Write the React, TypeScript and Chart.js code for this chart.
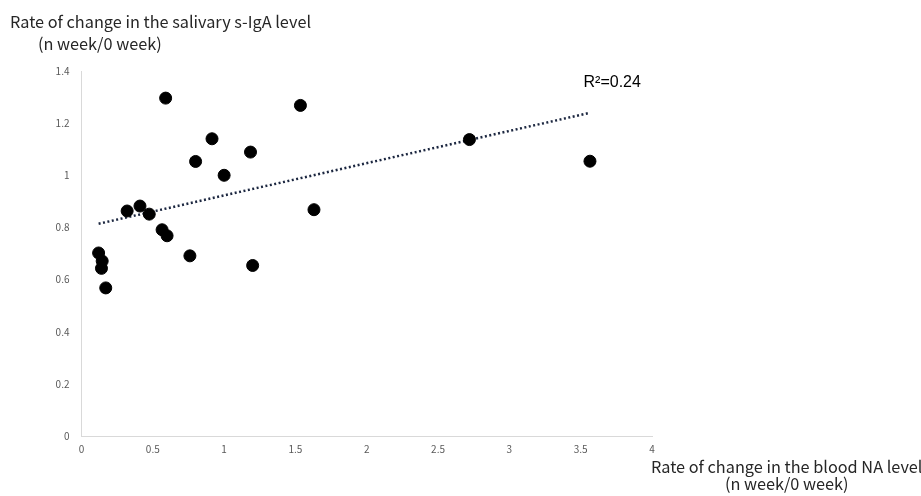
import React, { useEffect, useRef } from "react";
import { Chart, registerables } from "chart.js";

Chart.register(...registerables);

const naRate = [0.12, 0.145, 0.14, 0.17, 0.32, 0.41, 0.475, 0.565, 0.6, 0.59, 0.76, 0.8, 0.915, 1.0, 1.185, 1.2, 1.535, 1.63, 2.72, 3.565];
const igaRate = [0.702, 0.671, 0.643, 0.568, 0.863, 0.882, 0.851, 0.791, 0.768, 1.296, 0.691, 1.053, 1.14, 1.0, 1.089, 0.654, 1.268, 0.868, 1.137, 1.054];
const trendX = [0.12, 3.55];
const trendY = [0.814, 1.238];
const xTicks = [0, 0.5, 1, 1.5, 2, 2.5, 3, 3.5, 4];
const yTicks = [0, 0.2, 0.4, 0.6, 0.8, 1, 1.2, 1.4];
const yTitle = ["Rate of change in the salivary s-IgA level", "(n week/0 week)"];
const xTitle = ["Rate of change in the blood NA level", "(n week/0 week)"];
const r2Label = "R²=0.24";

const CJK = '"Noto Sans CJK JP", "Noto Sans", sans-serif';

export default function App() {
  const ref = useRef<HTMLCanvasElement>(null);
  useEffect(() => {
    document.body.style.margin = "0";
    const canvas = ref.current!;
    const textPlugin = {
      id: "texts",
      afterDraw(chart: any) {
        const ctx = chart.ctx;
        const xs = chart.scales.x;
        const ys = chart.scales.y;
        ctx.save();
        ctx.fillStyle = "#262626";
        ctx.font = `16.3px ${CJK}`;
        ctx.textBaseline = "middle";
        ctx.textAlign = "left";
        ctx.fillText(yTitle[0], 10, 22);
        ctx.fillText(yTitle[1], 38, 44);
        const x1 = xs.right - 1;
        ctx.fillText(xTitle[0], x1, 467);
        const w0 = ctx.measureText(xTitle[0]).width;
        ctx.textAlign = "center";
        ctx.fillText(xTitle[1], x1 + w0 / 2, 484);
        ctx.fillStyle = "#000";
        ctx.font = '16px "Liberation Sans", Arial, sans-serif';
        ctx.textAlign = "left";
        ctx.fillText(r2Label, xs.getPixelForValue(3.52), ys.getPixelForValue(1.357));
        ctx.restore();
      },
    };
    const chart = new Chart(canvas, {
      type: "scatter",
      data: {
        datasets: [
          {
            data: naRate.map((x, i) => ({ x, y: igaRate[i] })),
            backgroundColor: "#000",
            borderColor: "#000",
            pointRadius: 6,
            pointHoverRadius: 6,
          },
          {
            type: "line",
            data: trendX.map((x, i) => ({ x, y: trendY[i] })),
            borderColor: "#1c2740",
            borderWidth: 2.5,
            borderDash: [2, 2.5],
            pointRadius: 0,
            fill: false,
          } as any,
        ],
      },
      options: {
        animation: false,
        responsive: false,
        layout: { padding: { left: 41.5, right: 269, top: 71, bottom: 30 } },
        plugins: { legend: { display: false }, tooltip: { enabled: false } },
        scales: {
          x: {
            type: "linear",
            min: 0,
            max: 4,
            afterBuildTicks: (s: any) => { s.ticks = xTicks.map((v) => ({ value: v })); },
            afterFit: (s: any) => { s.height = 30; },
            grid: { display: false, drawTicks: false },
            border: { display: true, color: "#d9d9d9", width: 1 },
            ticks: { color: "#595959", font: { family: CJK, size: 10 }, padding: 7, callback: (v: any) => String(v) },
          },
          y: {
            type: "linear",
            min: 0,
            max: 1.4,
            afterBuildTicks: (s: any) => { s.ticks = yTicks.map((v) => ({ value: v })); },
            afterFit: (s: any) => { s.width = 40; },
            grid: { display: false, drawTicks: false },
            border: { display: true, color: "#d9d9d9", width: 1 },
            ticks: { color: "#595959", font: { family: CJK, size: 10 }, padding: 12, callback: (v: any) => String(v) },
          },
        },
      },
      plugins: [textPlugin],
    });
    return () => chart.destroy();
  }, []);
  return <canvas ref={ref} width={921} height={496} style={{ display: "block" }} />;
}
